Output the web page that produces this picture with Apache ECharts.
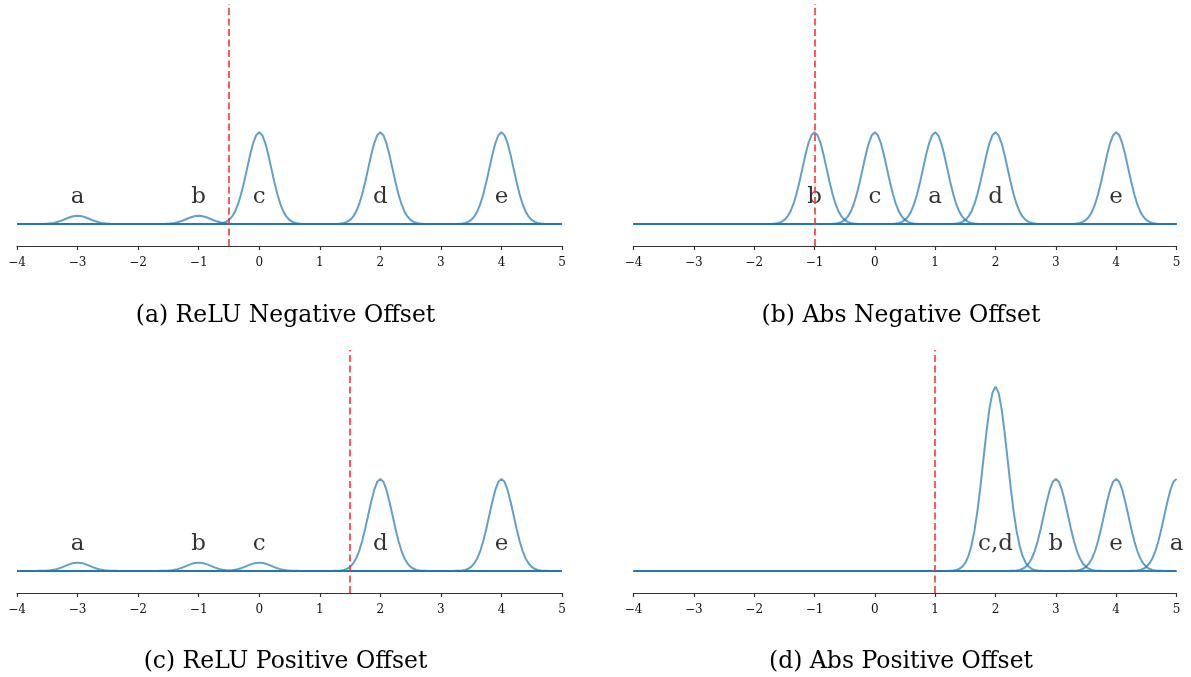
<!DOCTYPE html>
<html>
<head>
<meta charset="utf-8">
<script src="https://cdn.jsdelivr.net/npm/echarts@6/dist/echarts.min.js"></script>
<style>
html,body{margin:0;padding:0;background:#fff;}
#chart{width:1191px;height:677px;}
</style>
</head>
<body>
<div id="chart"></div>
<script>
// x-axis range and ticks
const xMin = -4, xMax = 5, xStep = 0.05;
const xTicks = [-4, -3, -2, -1, 0, 1, 2, 3, 4, 5];
// one bump's shape, at offsets 0, 0.05, 0.10, ... from its centre
const bumpShape = [1, 0.969, 0.883, 0.755, 0.607, 0.458, 0.325, 0.216, 0.135, 0.080, 0.044, 0.023, 0.011, 0.005, 0.002, 0.001];

// panel (a) ReLU Negative Offset
const aNames = ['a', 'b', 'c', 'd', 'e'];
const aCenters = [-3, -1, 0, 2, 4];
const aHeights = [0.09, 0.09, 1, 1, 1];
const aOffset = -0.5;
// panel (b) Abs Negative Offset
const bNames = ['b', 'c', 'a', 'd', 'e'];
const bCenters = [-1, 0, 1, 2, 4];
const bHeights = [1, 1, 1, 1, 1];
const bOffset = -1;
// panel (c) ReLU Positive Offset
const cNames = ['a', 'b', 'c', 'd', 'e'];
const cCenters = [-3, -1, 0, 2, 4];
const cHeights = [0.09, 0.09, 0.09, 1, 1];
const cOffset = 1.5;
// panel (d) Abs Positive Offset
const dNames = ['c,d', 'b', 'e', 'a'];
const dCenters = [2, 3, 4, 5];
const dHeights = [2, 1, 1, 1];
const dOffset = 1;

const labelLevel = 0.29;
const captions = ['(a) ReLU Negative Offset', '(b) Abs Negative Offset', '(c) ReLU Positive Offset', '(d) Abs Positive Offset'];

const panels = [
  {names: aNames, centers: aCenters, heights: aHeights, offset: aOffset},
  {names: bNames, centers: bCenters, heights: bHeights, offset: bOffset},
  {names: cNames, centers: cCenters, heights: cHeights, offset: cOffset},
  {names: dNames, centers: dCenters, heights: dHeights, offset: dOffset}
];

const nPts = Math.round((xMax - xMin) / xStep);
function curve(center, height) {
  const ci = Math.round((center - xMin) / xStep);
  const out = [];
  for (let i = 0; i <= nPts; i++) {
    const k = Math.abs(i - ci);
    const v = k < bumpShape.length ? bumpShape[k] * height : 0;
    out.push([+(xMin + i * xStep).toFixed(2), v]);
  }
  return out;
}

const gridPos = [
  {left: 17, top: 4, width: 545, height: 242},
  {left: 633.5, top: 4, width: 543, height: 242},
  {left: 17, top: 350, width: 545, height: 243},
  {left: 633.5, top: 350, width: 543, height: 243}
];

const serif = 'DejaVu Serif';
const grids = [], xAxes = [], yAxes = [], series = [], graphics = [];
panels.forEach((p, gi) => {
  grids.push(gridPos[gi]);
  xAxes.push({
    type: 'value', gridIndex: gi, min: xMin, max: xMax, interval: 1,
    splitLine: {show: false},
    axisLine: {show: true, onZero: false, lineStyle: {color: '#333', width: 1.2}},
    axisTick: {show: true, length: 4, lineStyle: {color: '#333', width: 1.2}},
    axisLabel: {
      margin: 11, fontFamily: serif, fontSize: 12, color: '#111',
      formatter: v => (v < 0 ? '\u2212' + Math.abs(v) : String(v))
    }
  });
  yAxes.push({type: 'value', gridIndex: gi, min: -0.24, max: 2.4, show: false});
  p.centers.forEach((c, si) => {
    series.push({
      type: 'line', xAxisIndex: gi, yAxisIndex: gi,
      data: curve(c, p.heights[si]),
      showSymbol: false, symbol: 'none', silent: true,
      lineStyle: {color: '#1f77b4', width: 2, opacity: 0.7},
      z: 2
    });
  });
  series.push({
    type: 'scatter', xAxisIndex: gi, yAxisIndex: gi, silent: true,
    symbolSize: 1, itemStyle: {color: 'rgba(0,0,0,0)'},
    data: p.centers.map((c, i) => ({value: [c, labelLevel], name: p.names[i]})),
    label: {
      show: true, position: 'inside', formatter: d => d.name,
      fontFamily: serif, fontSize: 23, color: '#000'
    },
    z: 3
  });
  series.push({
    type: 'line', xAxisIndex: gi, yAxisIndex: gi, data: [], silent: true,
    markLine: {
      silent: true, symbol: 'none', animation: false,
      label: {show: false},
      lineStyle: {color: '#ff3030', opacity: 0.8, width: 2, type: [7, 3.5]},
      data: [{xAxis: p.offset}]
    },
    z: 4
  });
  const g = gridPos[gi];
  graphics.push({
    type: 'text',
    x: g.left + g.width / 2 - 4, y: gi < 2 ? 316 : 662,
    style: {
      text: captions[gi], fontFamily: serif, fontSize: 23.5,
      fill: '#000', textAlign: 'center', textVerticalAlign: 'middle'
    }
  });
});

const chart = echarts.init(document.getElementById('chart'), null, {renderer: 'canvas'});
chart.setOption({
  animation: false,
  backgroundColor: '#fff',
  grid: grids, xAxis: xAxes, yAxis: yAxes, series: series,
  graphic: graphics
});
</script>
</body>
</html>
